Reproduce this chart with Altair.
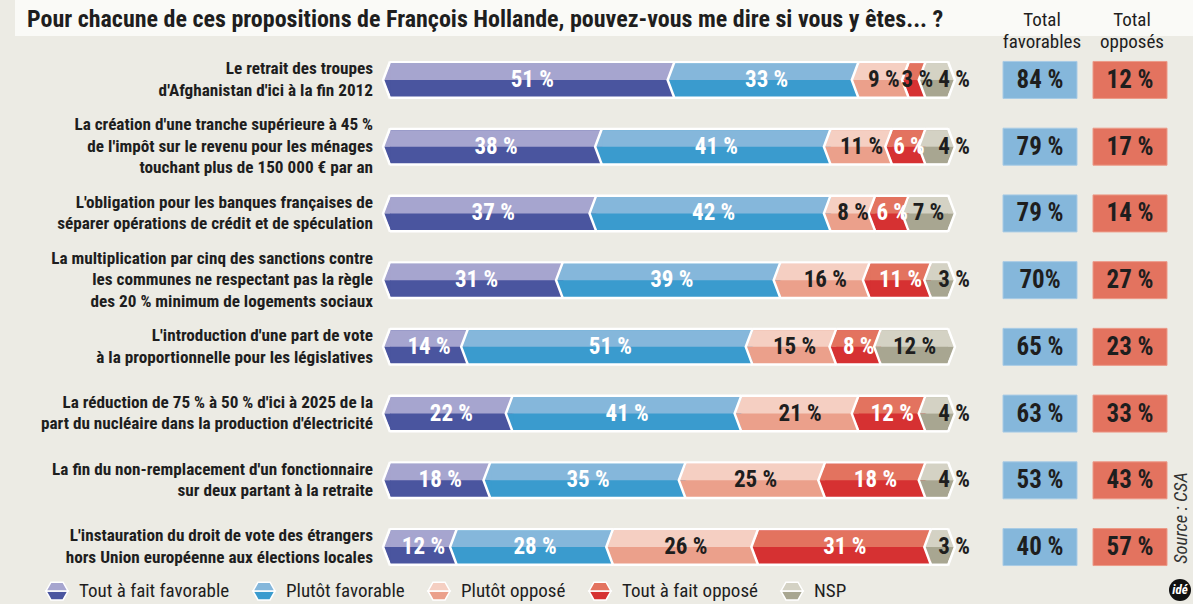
import altair as alt
import pandas as pd

QUESTIONS = [
    "Le retrait des troupes\nd'Afghanistan d'ici à la fin 2012",
    "La création d'une tranche supérieure à 45 %\nde l'impôt sur le revenu pour les ménages\ntouchant plus de 150 000 € par an",
    "L'obligation pour les banques françaises de\nséparer opérations de crédit et de spéculation",
    "La multiplication par cinq des sanctions contre\nles communes ne respectant pas la règle\ndes 20 % minimum de logements sociaux",
    "L'introduction d'une part de vote\nà la proportionnelle pour les législatives",
    "La réduction de 75 % à 50 % d'ici à 2025 de la\npart du nucléaire dans la production d'électricité",
    "La fin du non-remplacement d'un fonctionnaire\nsur deux partant à la retraite",
    "L'instauration du droit de vote des étrangers\nhors Union européenne aux élections locales",
]
CATS = ["Tout à fait favorable", "Plutôt favorable", "Plutôt opposé", "Tout à fait opposé", "NSP"]
TAF = [51, 38, 37, 31, 14, 22, 18, 12]
PF = [33, 41, 42, 39, 51, 41, 35, 28]
PO = [9, 11, 8, 16, 15, 21, 25, 26]
TAO = [3, 6, 6, 11, 8, 12, 18, 31]
NSP = [4, 4, 7, 3, 12, 4, 4, 3]
TOTAL_FAV = ["84 %", "79 %", "79 %", "70%", "65 %", "63 %", "53 %", "40 %"]
TOTAL_OPP = ["12 %", "17 %", "14 %", "27 %", "23 %", "33 %", "43 %", "57 %"]

LIGHT = ["#A6A5CF", "#85B7DB", "#F5CFC2", "#E3735F", "#D4D2C4"]
DARK = ["#4A559F", "#3A9BCE", "#EBA08B", "#D63132", "#A8A691"]
BG = "#ECEBE4"
FONT = "Roboto Condensed, Liberation Sans Narrow, DejaVu Sans Condensed, sans-serif"
INK = "#1E1E1E"

rows = []
series = [TAF, PF, PO, TAO, NSP]
for qi, q in enumerate(QUESTIONS):
    cum = 0
    for ci, cat in enumerate(CATS):
        v = series[ci][qi]
        dark_text = cat in ("Plutôt opposé", "NSP") or (cat == "Tout à fait opposé" and v < 5)
        small_end = cat == "NSP" and v < 5
        rows.append(dict(q=q, cat=cat, v=v, start=cum, end=cum + v, mid=cum + v / 2,
                         label=f"{v} %", kind=("out" if small_end else ("dark" if dark_text else "white"))))
        cum += v
df = pd.DataFrame(rows)
df_tot = pd.DataFrame({"q": QUESTIONS, "fav": TOTAL_FAV, "opp": TOTAL_OPP,
                       "nlines": [q.count("\n") + 1 for q in QUESTIONS]})

Y = alt.Y("q:N", sort=QUESTIONS, axis=None,
          scale=alt.Scale(range=[46.6, 580.4], paddingInner=0, paddingOuter=0))
XS = alt.Scale(domain=[0, 100], range=[390, 948])


def xs(field):
    return alt.X(f"{field}:Q", scale=XS, axis=None)


def fill_scale(rng):
    return alt.Scale(domain=CATS, range=rng)


HALF = 16.5
SZ = (2 * HALF) ** 2
TRI_TOP = "M 0.05 -1 L -0.42 0 L 0.05 0 Z"
TRI_BOT = "M 0.05 0 L -0.42 0 L 0.05 1 Z"
CHEV = "M 0 -1.12 L -0.42 0 L 0 1.12"
RTRI_TOP = "M -0.05 -1 L 0.42 0 L -0.05 0 Z"
RTRI_BOT = "M -0.05 0 L 0.42 0 L -0.05 1 Z"
RCHEV = "M 0 -1.12 L 0.42 0 L 0 1.12"

HEX_TOP = "M -1 0 L -0.55 -0.8 L 0.55 -0.8 L 1 0 Z"
HEX_BOT = "M -1 0 L 1 0 L 0.55 0.8 L -0.55 0.8 Z"

legend_common = dict(orient="none", legendX=45, legendY=579, direction="horizontal", columns=5,
                     columnPadding=20, title=None, labelFont=FONT, labelFontSize=19, labelColor=INK,
                     labelOffset=10, symbolSize=484, symbolStrokeColor="white", symbolStrokeWidth=1.5)

base = alt.Chart(df)

backing = base.mark_bar(height=38, color="white").encode(x=xs("start"), x2="end", y=Y)

bottom = base.mark_bar(height=2 * HALF).encode(
    x=xs("start"), x2="end", y=Y,
    fill=alt.Fill("cat:N", scale=fill_scale(DARK),
                  legend=alt.Legend(symbolType=HEX_BOT, **legend_common)))
top = base.mark_bar(height=HALF, yOffset=-HALF / 2).encode(
    x=xs("start"), x2="end", y=Y,
    fill=alt.Fill("cat:N", scale=fill_scale(LIGHT),
                  legend=alt.Legend(symbolType=HEX_TOP, labelOpacity=0, **legend_common)))

tri_top = base.mark_point(shape=TRI_TOP, size=SZ, filled=True, opacity=1, strokeWidth=0).encode(
    x=xs("start"), y=Y, fill=alt.Fill("cat:N", scale=fill_scale(LIGHT), legend=None))
tri_bot = base.mark_point(shape=TRI_BOT, size=SZ, filled=True, opacity=1, strokeWidth=0).encode(
    x=xs("start"), y=Y, fill=alt.Fill("cat:N", scale=fill_scale(DARK), legend=None))
chev = base.mark_point(shape=CHEV, size=SZ, filled=False, opacity=1, color="white", strokeWidth=2.5).encode(
    x=xs("start"), y=Y)

last = base.transform_filter(alt.datum.cat == "NSP")
rtri_top = last.mark_point(shape=RTRI_TOP, size=SZ, filled=True, opacity=1, strokeWidth=0, fill=LIGHT[4]).encode(
    x=xs("end"), y=Y)
rtri_bot = last.mark_point(shape=RTRI_BOT, size=SZ, filled=True, opacity=1, strokeWidth=0, fill=DARK[4]).encode(
    x=xs("end"), y=Y)
rchev = last.mark_point(shape=RCHEV, size=SZ, filled=False, opacity=1, color="white", strokeWidth=2.5).encode(
    x=xs("end"), y=Y)

lab_kw = dict(font=FONT, fontSize=23, fontWeight="bold", baseline="middle")
lab_white = base.transform_filter(alt.datum.kind == "white").mark_text(color="white", **lab_kw).encode(
    x=xs("mid"), y=Y, text="label:N")
lab_dark = base.transform_filter(alt.datum.kind == "dark").mark_text(color=INK, **lab_kw).encode(
    x=xs("mid"), y=Y, text="label:N")
lab_out = base.transform_filter(alt.datum.kind == "out").mark_text(color=INK, dx=6, **lab_kw).encode(
    x=xs("end"), y=Y, text="label:N")

LH = 21.5
q_kw = dict(font=FONT, fontSize=17.2, fontWeight="bold", color=INK, align="right",
            baseline="middle", lineBreak="\n", lineHeight=LH)
qlabels2 = alt.Chart(df_tot).transform_filter(alt.datum.nlines == 2).mark_text(dy=-LH / 2, **q_kw).encode(
    x=alt.value(373), y=Y, text="q:N")
qlabels3 = alt.Chart(df_tot).transform_filter(alt.datum.nlines == 3).mark_text(dy=-LH, **q_kw).encode(
    x=alt.value(373), y=Y, text="q:N")

box_fav = alt.Chart(df_tot).mark_bar(height=37, color="#85B7DB", stroke="#A9CBE5", strokeWidth=1).encode(
    x=alt.value(1003), x2=alt.value(1077), y=Y)
box_opp = alt.Chart(df_tot).mark_bar(height=37, color="#E3735F", stroke="#EC9A88", strokeWidth=1).encode(
    x=alt.value(1093), x2=alt.value(1167), y=Y)
box_kw = dict(font=FONT, fontSize=25, fontWeight="bold", color=INK, baseline="middle")
txt_fav = alt.Chart(df_tot).mark_text(**box_kw).encode(x=alt.value(1040), y=Y, text="fav:N")
txt_opp = alt.Chart(df_tot).mark_text(**box_kw).encode(x=alt.value(1130), y=Y, text="opp:N")

one = pd.DataFrame({"t": ["Pour chacune de ces propositions de François Hollande, pouvez-vous me dire si vous y êtes... ?"]})
band = alt.Chart(one).mark_rect(color="#FAFAF7").encode(
    x=alt.value(15), x2=alt.value(1193), y=alt.value(0), y2=alt.value(36))
title = alt.Chart(one).mark_text(font=FONT, fontSize=24, fontWeight="bold", color=INK, align="left",
                                 baseline="middle").encode(x=alt.value(27), y=alt.value(20), text="t:N")
hdr_fav = alt.Chart(pd.DataFrame({"t": ["Total\nfavorables"]})).mark_text(
    font=FONT, fontSize=19, color=INK, baseline="top", lineBreak="\n", lineHeight=22).encode(
    x=alt.value(1042), y=alt.value(11), text="t:N")
hdr_opp = alt.Chart(pd.DataFrame({"t": ["Total\nopposés"]})).mark_text(
    font=FONT, fontSize=19, color=INK, baseline="top", lineBreak="\n", lineHeight=22).encode(
    x=alt.value(1132), y=alt.value(11), text="t:N")
source = alt.Chart(pd.DataFrame({"t": ["Source : CSA"]})).mark_text(
    font=FONT, fontSize=18.5, fontStyle="italic", color="#333333", angle=270, baseline="middle").encode(
    x=alt.value(1181), y=alt.value(518), text="t:N")
logo = alt.Chart(pd.DataFrame({"t": ["idé"]})).mark_point(shape="circle", filled=True, opacity=1,
                                                          color="#111111", size=484).encode(
    x=alt.value(1180), y=alt.value(590))
logo_t = alt.Chart(pd.DataFrame({"t": ["idé"]})).mark_text(
    font=FONT, fontSize=13, fontWeight="bold", fontStyle="italic", color="white", baseline="middle").encode(
    x=alt.value(1180), y=alt.value(590), text="t:N")

chart = alt.layer(
    band, title, hdr_fav, hdr_opp,
    backing, bottom, top, tri_top, tri_bot, chev, rtri_top, rtri_bot, rchev,
    lab_white, lab_dark, lab_out, qlabels2, qlabels3,
    box_fav, box_opp, txt_fav, txt_opp, source, logo, logo_t,
).resolve_scale(fill="independent").resolve_legend(fill="independent").properties(
    width=1193, height=604, autosize=alt.AutoSizeParams(type="none"), padding=0, background=BG
).configure_view(stroke=None)

chart.save("out.html", embed_options={"renderer": "svg", "actions": False})
